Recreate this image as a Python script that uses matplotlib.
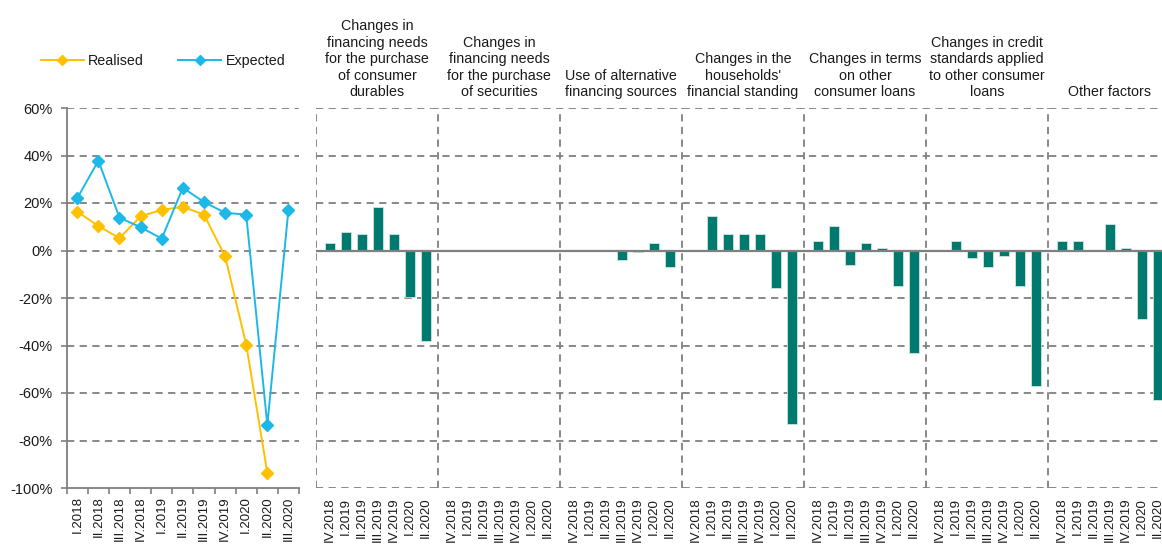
import matplotlib
matplotlib.use("Agg")
import matplotlib.pyplot as plt
from matplotlib.lines import Line2D
import matplotlib.transforms as mtransforms
import numpy as np

plt.rcParams['font.family'] = ['Liberation Sans', 'DejaVu Sans']

# ---------------- data ----------------
quarters_left = ["I.2018", "II.2018", "III.2018", "IV.2018", "I.2019", "II.2019",
                 "III.2019", "IV.2019", "I.2020", "II.2020", "III.2020"]
realised = [16.4, 10.3, 5.2, 14.4, 17.1, 18.4, 15.1, -2.4, -39.6, -93.6, np.nan]
expected = [22.0, 37.8, 13.8, 9.8, 5.0, 26.4, 20.4, 15.9, 15.1, -73.4, 17.1]

quarters_right = ["IV.2018", "I.2019", "II.2019", "III.2019", "IV.2019", "I.2020", "II.2020"]
factor_titles = [
    "Changes in\nfinancing needs\nfor the purchase\nof consumer\ndurables",
    "Changes in\nfinancing needs\nfor the purchase\nof securities",
    "Use of alternative\nfinancing sources",
    "Changes in the\nhouseholds'\nfinancial standing",
    "Changes in terms\non other\nconsumer loans",
    "Changes in credit\nstandards applied\nto other consumer\nloans",
    "Other factors",
]
consumer_durables = [3.1, 7.8, 7.1, 18.5, 7.1, -19.6, -38.3]
securities = [0.0, 0.0, 0.0, 0.0, 0.0, 0.0, -0.3]
alternative_sources = [0.0, 0.0, 0.0, -4.1, -0.5, 3.2, -6.9]
financial_standing = [0.0, 14.5, 7.1, 7.1, 7.1, -15.7, -73.2]
terms_other_loans = [3.8, 10.3, -6.3, 3.1, 1.0, -15.0, -43.1]
credit_standards = [0.0, 3.8, -3.0, -7.0, -2.3, -15.0, -57.2]
other_factors = [4.2, 4.2, 0.0, 11.1, 1.0, -29.0, -63.0]
factor_values = [consumer_durables, securities, alternative_sources, financial_standing,
                 terms_other_loans, credit_standards, other_factors]

# ---------------- styling ----------------
W, H = 1162, 547
GRID = '#7f7f7f'
TXT = '#1a1a1a'
C_REAL = '#FFC000'
C_EXP = '#1CB8E8'
C_BAR = '#007A6E'

fig = plt.figure(figsize=(W / 100, H / 100), dpi=100)

def rect(x0, y0, x1, y1):
    return [x0 / W, 1 - y1 / H, (x1 - x0) / W, (y1 - y0) / H]

# ---------------- left panel ----------------
axl = fig.add_axes(rect(66.7, 108, 299, 488))
x = np.arange(len(quarters_left))
axl.plot(x, realised, color=C_REAL, marker='D', markersize=6, lw=1.4, zorder=3)
axl.plot(x, expected, color=C_EXP, marker='D', markersize=6, lw=1.4, zorder=3)
axl.set_xlim(-0.5, len(quarters_left) - 0.5)
axl.set_ylim(-100, 60)
yt = np.arange(-100, 61, 20)
axl.set_yticks(yt)
axl.set_yticklabels([f"{v}%" for v in yt], fontsize=10.5, color=TXT)
for v in yt[1:]:
    axl.axhline(v, color=GRID, lw=1.3, ls=(0, (4, 3)), zorder=1)
axl.set_xticks(x)
axl.set_xticklabels(quarters_left, rotation=90, fontsize=9.5, color=TXT)
axl.set_xticks(np.arange(-0.5, len(quarters_left), 1), minor=True)
axl.tick_params(axis='x', which='major', length=0, pad=6)
axl.tick_params(axis='x', which='minor', length=4, color=GRID, width=1.2)
axl.tick_params(axis='y', length=4, color=GRID, width=1.2, pad=6)
for s in ['top', 'right']:
    axl.spines[s].set_visible(False)
for s in ['left', 'bottom']:
    axl.spines[s].set_color(GRID)
    axl.spines[s].set_linewidth(1.3)

handles = [Line2D([], [], color=C_REAL, marker='D', markersize=5, lw=1.4),
           Line2D([], [], color=C_EXP, marker='D', markersize=5, lw=1.4)]
fig.legend(handles, ["Realised", "Expected"], loc='center left',
           bbox_to_anchor=(28 / W, 1 - 61 / H), ncol=2, frameon=False,
           handlelength=3.0, handletextpad=0.3, columnspacing=2.4, fontsize=10.3,
           labelcolor=TXT)

# ---------------- right panel ----------------
GW = 7.625  # group width in slot units
ngroups = len(factor_values)
axr = fig.add_axes(rect(316, 108, 316 + ngroups * 122, 488))
axr.set_xlim(0, ngroups * GW)
axr.set_ylim(-100, 60)
positions = []
labels = []
for g, vals in enumerate(factor_values):
    xs = g * GW + 0.875 + np.arange(len(quarters_right))
    axr.bar(xs, vals, width=0.6, color=C_BAR, edgecolor='#cfe6e2', linewidth=0.6, zorder=3)
    positions.extend(xs)
    labels.extend(quarters_right)
for v in yt:
    if v == 0:
        continue
    axr.axhline(v, color=GRID, lw=1.3, ls=(0, (4, 3)), zorder=1)
axr.axhline(0, color=GRID, lw=1.6, zorder=4)
for g in range(ngroups + 1):
    axr.axvline(g * GW, color=GRID, lw=1.3, ls=(0, (4, 3)), zorder=1)
axr.set_yticks([])
axr.set_xticks(positions)
axr.set_xticklabels(labels, rotation=90, fontsize=9.5, color=TXT)
axr.tick_params(axis='x', length=0, pad=7)
for s in axr.spines.values():
    s.set_visible(False)

trans = mtransforms.blended_transform_factory(axr.transData, axr.transAxes)
for g, title in enumerate(factor_titles):
    axr.text(g * GW + GW / 2, 1 + 9 / 380, title, transform=trans, ha='center', va='bottom',
             fontsize=10.3, color=TXT, linespacing=1.22, multialignment='center')

fig.savefig("out.png", dpi=100)
